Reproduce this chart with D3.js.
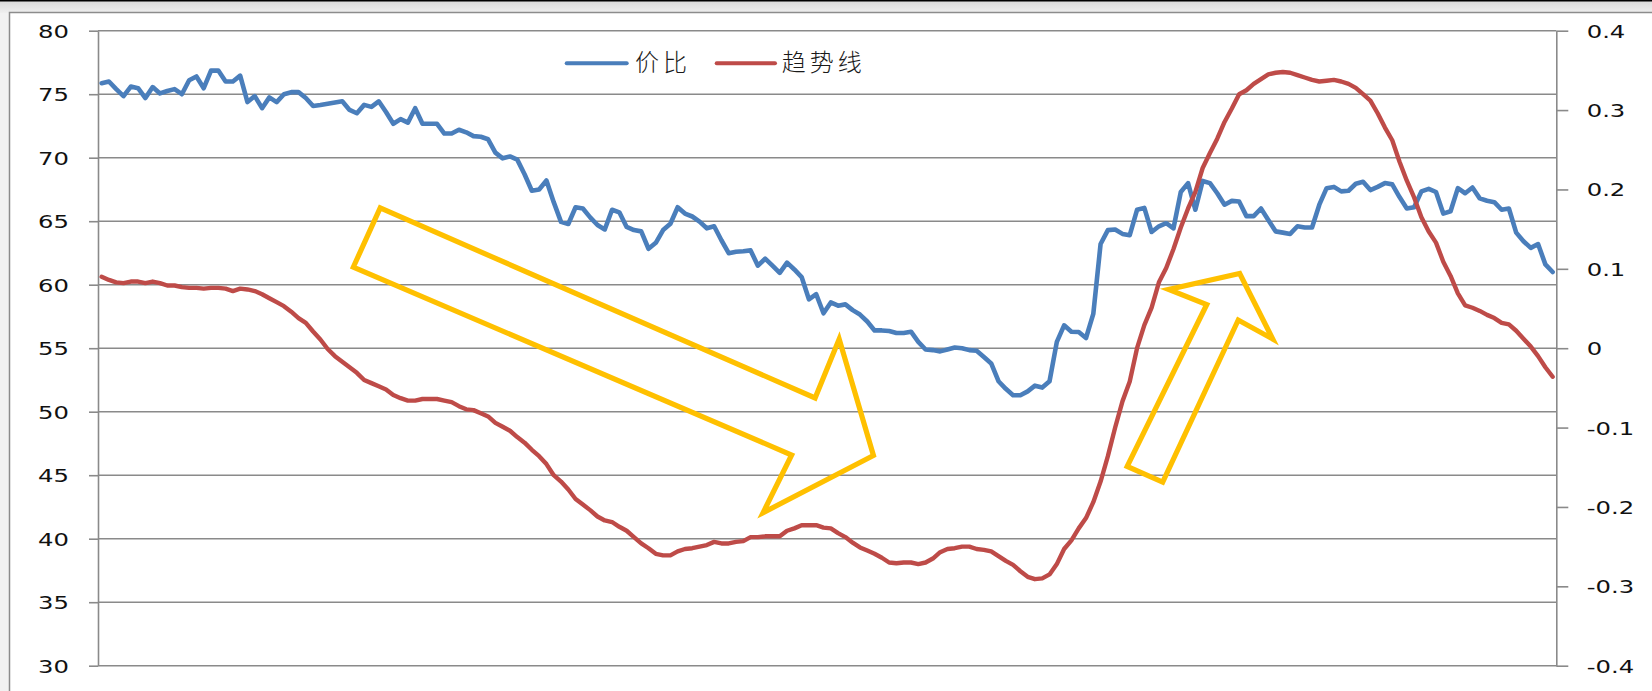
<!DOCTYPE html>
<html>
<head>
<meta charset="utf-8">
<script src="https://cdn.jsdelivr.net/npm/d3@7"></script>
<style>
  html, body { margin: 0; padding: 0; background: #f2f2f2; }
  svg { display: block; }
</style>
</head>
<body>
<svg id="chart" width="1652" height="691"></svg>
<script>
// ---- DATA ----
const leftTicks = [30, 35, 40, 45, 50, 55, 60, 65, 70, 75, 80];
const rightTicks = [-0.4, -0.3, -0.2, -0.1, 0, 0.1, 0.2, 0.3, 0.4];
const seriesNames = ["价比", "趋势线"];

// 价比 (left axis)
const priceRatio = [
  75.87, 76.0, 75.4, 74.85, 75.6, 75.47, 74.7, 75.56, 75.06, 75.25,
  75.4, 75.0, 76.1, 76.4, 75.47, 76.86, 76.86, 76.0, 76.0, 76.46,
  74.38, 74.85, 73.9, 74.75, 74.38, 75.0, 75.16, 75.16, 74.7, 74.07,
  74.15, 74.25, 74.35, 74.44, 73.76, 73.5, 74.16, 74.0, 74.44, 73.6,
  72.67, 73.04, 72.76, 73.9, 72.67, 72.67, 72.67, 71.9, 71.9, 72.2,
  72.0, 71.7, 71.65, 71.45, 70.4, 69.95, 70.1, 69.85, 68.7, 67.4,
  67.5, 68.2, 66.5, 64.95, 64.78, 66.1, 66.0, 65.3, 64.7, 64.35,
  65.9, 65.7, 64.55, 64.3, 64.2, 62.83, 63.3, 64.3, 64.8, 66.1,
  65.6, 65.37, 64.97, 64.44, 64.6, 63.5, 62.48, 62.6, 62.64, 62.7,
  61.5, 62.05, 61.5, 60.93, 61.74, 61.2, 60.6, 58.85, 59.25, 57.75,
  58.6, 58.35, 58.45, 58.0, 57.65, 57.1, 56.4, 56.4, 56.35, 56.2,
  56.2, 56.3, 55.5, 54.9, 54.85, 54.75, 54.9, 55.05, 55.0, 54.85,
  54.8, 54.3, 53.8, 52.4, 51.8, 51.3, 51.3, 51.6, 52.05, 51.9,
  52.4, 55.5, 56.8, 56.3, 56.27, 55.8, 57.7, 63.2, 64.3, 64.35,
  64.0, 63.9, 65.9, 66.05, 64.15, 64.6, 64.84, 64.44, 67.3, 68.0,
  65.9, 68.17, 68.0, 67.2, 66.3, 66.6, 66.55, 65.4, 65.4, 66.0,
  65.1, 64.2, 64.1, 64.0, 64.6, 64.5, 64.5, 66.3, 67.6, 67.7,
  67.35, 67.4, 67.95, 68.1, 67.45, 67.7, 68.0, 67.9, 66.9, 66.0,
  66.1, 67.35, 67.55, 67.3, 65.6, 65.78, 67.6, 67.2, 67.65, 66.8,
  66.61, 66.5, 65.9, 66.0, 64.1, 63.42, 62.9, 63.2, 61.6, 61.0
];

// 趋势线 (right axis)
const trendLine = [
  0.090, 0.086, 0.083, 0.082, 0.084, 0.084, 0.082, 0.084, 0.082, 0.079,
  0.079, 0.077, 0.076, 0.076, 0.075, 0.076, 0.076, 0.075, 0.072, 0.075,
  0.074, 0.072, 0.068, 0.063, 0.058, 0.053, 0.046, 0.038, 0.032, 0.021,
  0.011, -0.001, -0.010, -0.017, -0.024, -0.031, -0.040, -0.044, -0.048, -0.052,
  -0.059, -0.063, -0.066, -0.066, -0.064, -0.064, -0.064, -0.066, -0.068, -0.073,
  -0.077, -0.078, -0.082, -0.086, -0.094, -0.099, -0.104, -0.112, -0.119, -0.128,
  -0.136, -0.146, -0.160, -0.168, -0.178, -0.190, -0.197, -0.204, -0.212, -0.217,
  -0.219, -0.225, -0.230, -0.238, -0.246, -0.252, -0.259, -0.261, -0.261, -0.256,
  -0.253, -0.252, -0.250, -0.248, -0.244, -0.246, -0.246, -0.244, -0.243, -0.238,
  -0.238, -0.237, -0.237, -0.237, -0.230, -0.227, -0.223, -0.223, -0.223, -0.226,
  -0.227, -0.233, -0.238, -0.245, -0.251, -0.255, -0.259, -0.264, -0.270, -0.271,
  -0.270, -0.270, -0.272, -0.270, -0.265, -0.257, -0.253, -0.252, -0.250, -0.250,
  -0.253, -0.254, -0.256, -0.262, -0.268, -0.273, -0.281, -0.288, -0.291, -0.290,
  -0.285, -0.272, -0.253, -0.242, -0.227, -0.214, -0.194, -0.168, -0.136, -0.100,
  -0.067, -0.042, 0.000, 0.029, 0.051, 0.083, 0.101, 0.125, 0.152, 0.176,
  0.197, 0.227, 0.246, 0.264, 0.285, 0.302, 0.320, 0.325, 0.333, 0.339,
  0.345, 0.347, 0.348, 0.347, 0.344, 0.341, 0.338, 0.336, 0.337, 0.338,
  0.336, 0.333, 0.328, 0.320, 0.312, 0.296, 0.278, 0.262, 0.235, 0.211,
  0.190, 0.165, 0.147, 0.133, 0.109, 0.091, 0.069, 0.054, 0.051, 0.047,
  0.042, 0.038, 0.032, 0.030, 0.022, 0.012, 0.002, -0.010, -0.024, -0.036
];

// Annotation arrows, in data units: [category index, left-axis value]
const arrowDown = [[38.2, 66.04], [97.85, 51.08], [101.15, 55.72], [105.85, 46.55],
                   [90.72, 42.05], [94.63, 46.59], [34.52, 61.39]];
const arrowUp = [[140.65, 45.69], [151.56, 58.44], [146.34, 59.62], [156.08, 60.88],
                 [160.61, 55.72], [155.88, 57.22], [145.52, 44.46]];

// ---- LAYOUT ----
const svg = d3.select("#chart");
const W = 1652, H = 691;
const plot = { left: 98, right: 1556.3, top: 30.7, bottom: 665.7 };
const colors = { blue: "#4a7ebb", red: "#be4b48", yellow: "#ffc000", grid: "#8a8a8a", text: "#111" };
const N = priceRatio.length;
const TX = 1.35; // horizontal stretch of tick labels

const x = d3.scaleLinear().domain([-0.5, N - 0.5]).range([plot.left, plot.right]);
const yL = d3.scaleLinear().domain([30, 80]).range([plot.bottom, plot.top]);
const yR = d3.scaleLinear().domain([-0.4, 0.4]).range([plot.bottom, plot.top]);

// background outside frame
const defs = svg.append("defs");
const g1 = defs.append("linearGradient").attr("id", "topgrad").attr("x1", 0).attr("y1", 0).attr("x2", 0).attr("y2", 1);
g1.append("stop").attr("offset", "0%").attr("stop-color", "#d8d8d8");
g1.append("stop").attr("offset", "100%").attr("stop-color", "#efefef");
svg.append("rect").attr("x", 0).attr("y", 0).attr("width", W).attr("height", 13).attr("fill", "url(#topgrad)");
svg.append("rect").attr("x", 0).attr("y", 0).attr("width", W).attr("height", 1.5).attr("fill", "#000");
// chart frame
svg.append("rect").attr("x", 9.5).attr("y", 12.5).attr("width", W).attr("height", H)
  .attr("fill", "#fff").attr("stroke", "#8c8c8c").attr("stroke-width", 1.5);

// gridlines
svg.append("g").selectAll("line").data(leftTicks).join("line")
  .attr("x1", plot.left).attr("x2", plot.right)
  .attr("y1", d => yL(d)).attr("y2", d => yL(d))
  .attr("stroke", colors.grid).attr("stroke-width", 1.6);

// left axis
const axL = svg.append("g").attr("transform", `translate(${plot.left},0)`)
  .call(d3.axisLeft(yL).tickValues(leftTicks).tickSize(9).tickSizeOuter(0).tickFormat(d3.format("d")));
axL.select(".domain").attr("stroke", colors.grid).attr("stroke-width", 1.6);
axL.selectAll(".tick line").attr("stroke", colors.grid).attr("stroke-width", 1.6);
axL.selectAll(".tick text")
  .attr("x", -29 / TX).attr("dy", "0.36em").attr("transform", `scale(${TX},1)`)
  .attr("fill", colors.text).style("font-family", "DejaVu Sans").style("font-size", "18px");

// right axis
const axR = svg.append("g").attr("transform", `translate(${plot.right},0)`)
  .call(d3.axisRight(yR).tickValues(rightTicks).tickSize(12).tickSizeOuter(0)
    .tickFormat(d => Math.abs(d) < 1e-9 ? "0" : d.toFixed(1)));
axR.select(".domain").attr("stroke", colors.grid).attr("stroke-width", 1.6);
axR.selectAll(".tick line").attr("stroke", colors.grid).attr("stroke-width", 1.6);
axR.selectAll(".tick text")
  .attr("x", 30.4 / TX).attr("dy", "0.36em").attr("transform", `scale(${TX},1)`)
  .attr("fill", colors.text).style("font-family", "DejaVu Sans").style("font-size", "18px");
svg.selectAll(".tick text").attr("font-family", null).attr("font-size", null);

// series lines
const lineL = d3.line().x((d, i) => x(i)).y(d => yL(d));
const lineR = d3.line().x((d, i) => x(i)).y(d => yR(d));
svg.append("path").datum(priceRatio).attr("d", lineL)
  .attr("fill", "none").attr("stroke", colors.blue).attr("stroke-width", 4.6)
  .attr("stroke-linejoin", "round").attr("stroke-linecap", "round");
svg.append("path").datum(trendLine).attr("d", lineR)
  .attr("fill", "none").attr("stroke", colors.red).attr("stroke-width", 4.4)
  .attr("stroke-linejoin", "round").attr("stroke-linecap", "round");

// annotation arrows
const arrowLine = d3.line().x(d => x(d[0])).y(d => yL(d[1])).curve(d3.curveLinearClosed);
svg.append("g").selectAll("path").data([arrowDown, arrowUp]).join("path")
  .attr("d", arrowLine).attr("fill", "none").attr("stroke", colors.yellow)
  .attr("stroke-width", 5.2).attr("stroke-linejoin", "miter");

// legend
const legend = svg.append("g");
const legendItems = [
  { name: seriesNames[0], color: colors.blue, x1: 566.7, x2: 626.7, tx: 635 },
  { name: seriesNames[1], color: colors.red, x1: 716.7, x2: 775, tx: 781.7 }
];
legendItems.forEach(it => {
  legend.append("line").attr("x1", it.x1).attr("x2", it.x2).attr("y1", 63.3).attr("y2", 63.3)
    .attr("stroke", it.color).attr("stroke-width", 4).attr("stroke-linecap", "round");
  legend.append("text").attr("x", it.tx).attr("y", 71).text(it.name)
    .attr("fill", "#1a1a1a").style("font-family", "'Noto Sans CJK SC'").style("font-size", "24px")
    .style("font-weight", 300).style("letter-spacing", "4px");
});
</script>
</body>
</html>
